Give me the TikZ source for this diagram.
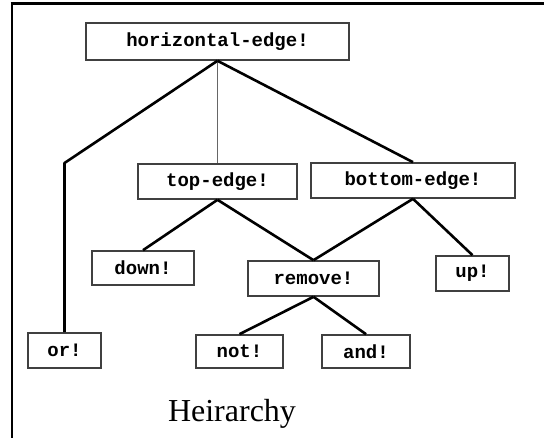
\documentclass[tikz,border=0pt]{standalone}
\usepackage{fontspec}
\newfontfamily\boxfont{Liberation Mono}
\newfontfamily\titlefont{Liberation Serif}
\tikzset{
  hbox/.style={draw=black!75, line width=1.6pt, fill=white, minimum height=35pt,
    inner sep=0pt, font=\boxfont\bfseries\fontsize{19}{21}\selectfont},
  link/.style={line width=2.6pt, black},
}
\begin{document}
\begin{tikzpicture}[x=1pt, y=-1pt]
  \useasboundingbox (0,0) rectangle (544,438);
  % frame
  \draw[line width=3pt] (10.5,4) -- (544,4);
  \draw[line width=2.5pt] (12,2.5) -- (12,438);
  % boxes
  \node[hbox, minimum width=263pt, minimum height=37pt] (hedge) at (217.5,41.5) {horizontal-edge!};
  \node[hbox, minimum width=159pt] (topedge) at (217.5,181.5) {top-edge!};
  \node[hbox, minimum width=204pt] (botedge) at (413,180.5) {bottom-edge!};
  \node[hbox, minimum width=102pt, minimum height=34pt] (down) at (143,268) {down!};
  \node[hbox, minimum width=131pt] (remove) at (313.5,278.5) {remove!};
  \node[hbox, minimum width=73pt] (up) at (472.5,273.5) {up!};
  \node[hbox, minimum width=73pt] (orn) at (64.5,350.5) {or!};
  \node[hbox, minimum width=87pt, minimum height=33pt] (notn) at (239.5,351.5) {not!};
  \node[hbox, minimum width=88pt, minimum height=33pt] (andn) at (366,351.5) {and!};
  \coordinate (kink) at (64.5,163);
  % links
  \draw[link, line join=round] (hedge.south) -- (kink) -- (orn.north);
  \draw[black!60, line width=1pt] (hedge.south) -- (topedge.north);
  \draw[link] (hedge.south) -- (botedge.north);
  \draw[link] (topedge.south) -- (down.north);
  \draw[link] (topedge.south) -- (remove.north);
  \draw[link] (botedge.south) -- (remove.north);
  \draw[link] (botedge.south) -- (up.north);
  \draw[link] (remove.south) -- (notn.north);
  \draw[link] (remove.south) -- (andn.north);
  % caption
  \node[anchor=base, inner sep=0pt, font=\titlefont\fontsize{32}{38}\selectfont] (title) at (232,421.5) {Heirarchy};
\end{tikzpicture}
\end{document}
